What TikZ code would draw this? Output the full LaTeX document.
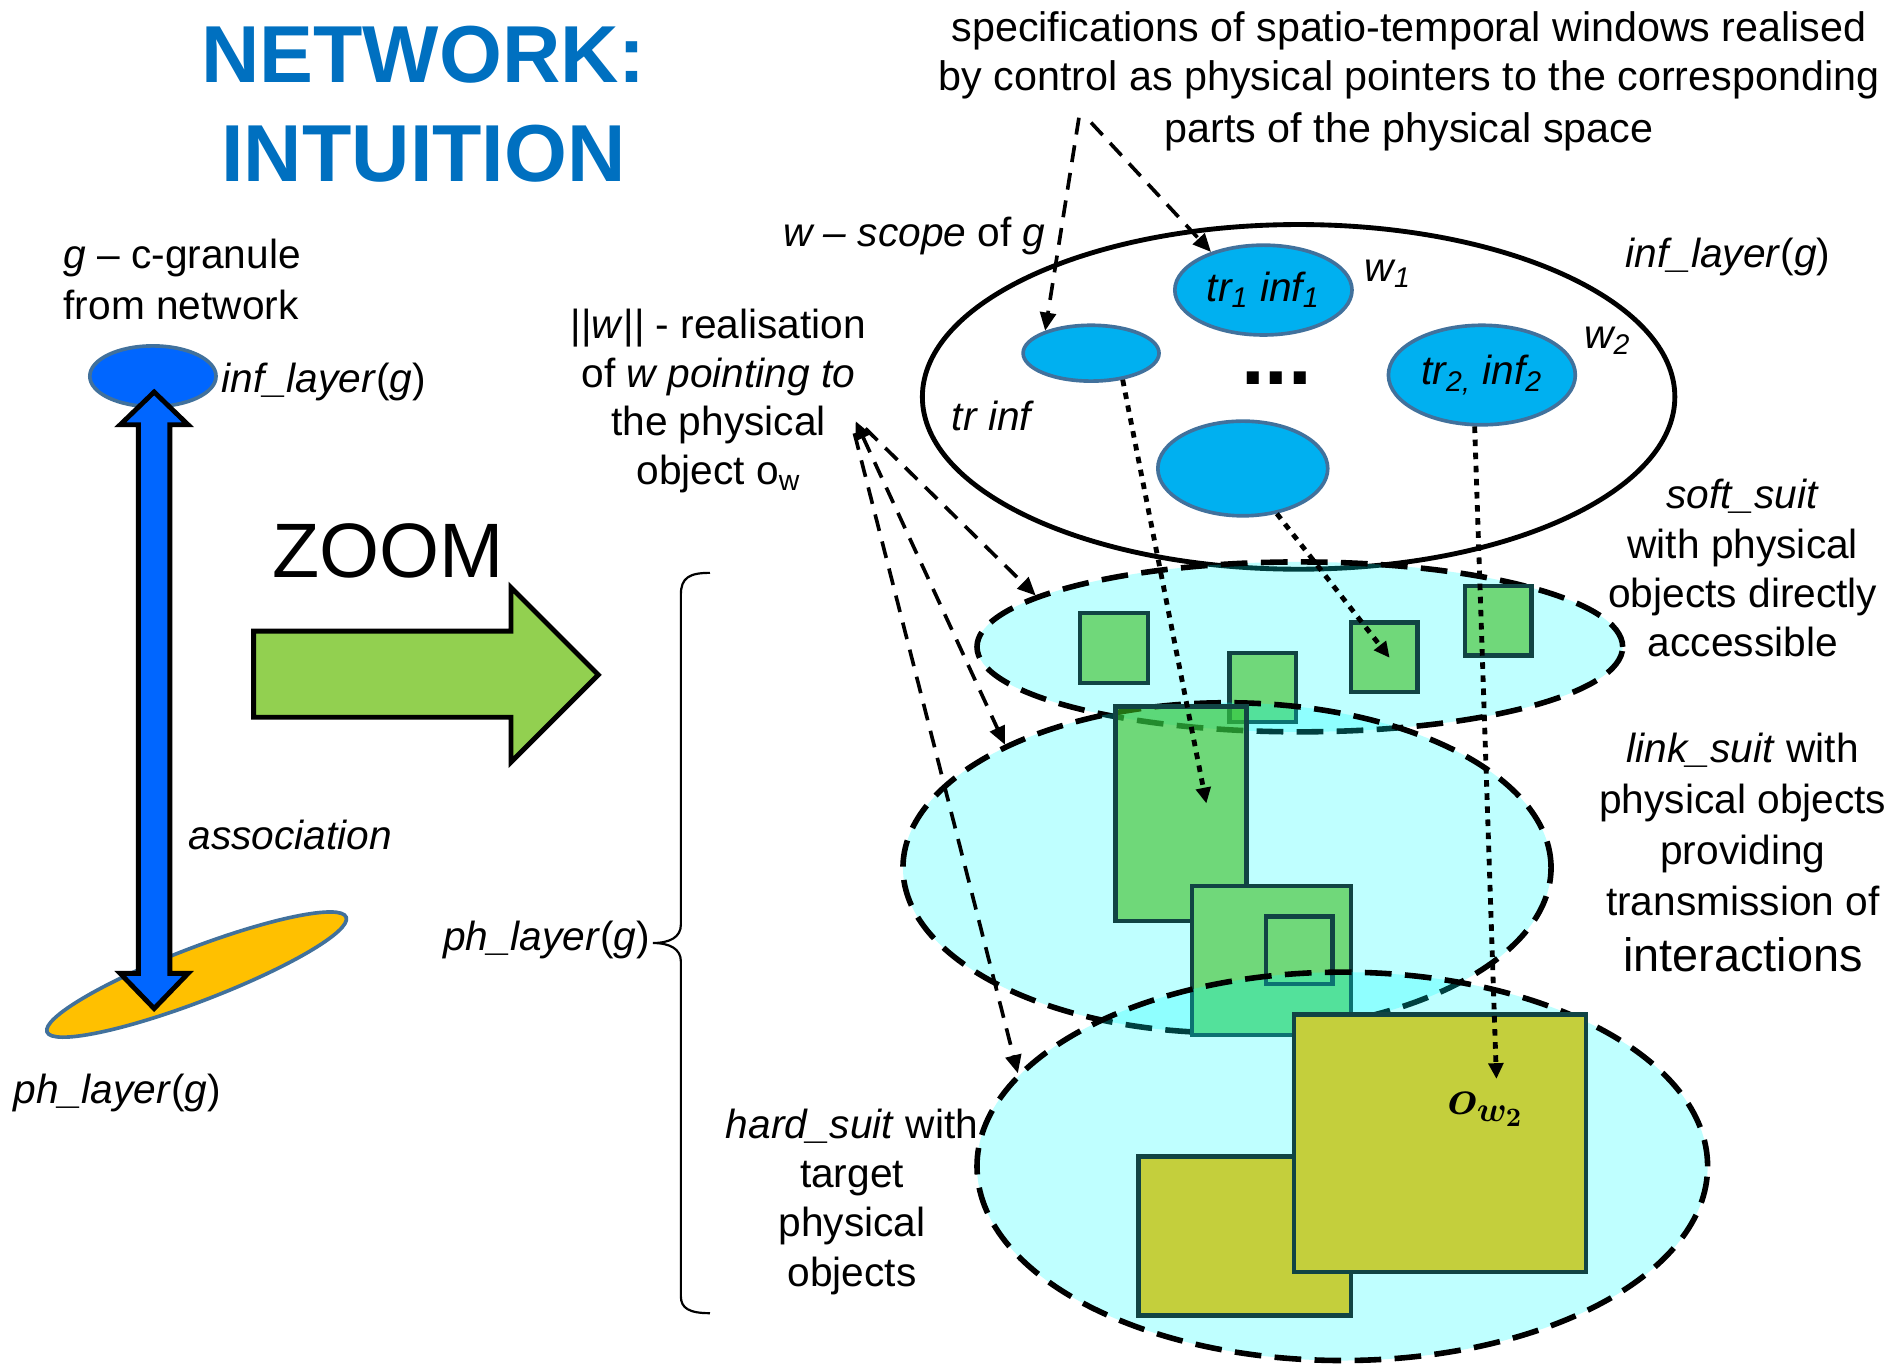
\documentclass[tikz,border=0pt]{standalone}
\usepackage{fontspec}
\setmainfont{Liberation Sans}
\usepackage{amsmath}
\usetikzlibrary{shapes.geometric,arrows.meta}

\definecolor{titleblue}{HTML}{0070C0}
\definecolor{royal}{HTML}{0066FF}
\definecolor{steel}{HTML}{41719C}
\definecolor{skyfill}{HTML}{00B0F0}
\definecolor{amber}{HTML}{FFC000}
\definecolor{leaf}{HTML}{92D050}
\definecolor{boxgreen}{HTML}{70D87A}
\definecolor{linkgreen}{RGB}{59,190,33}
\definecolor{hardolive}{HTML}{C4CF3C}
\definecolor{boxedge}{HTML}{114444}
\definecolor{aqua}{RGB}{0,255,255}

\begin{document}
\begin{tikzpicture}[x=0.5pt,y=-0.5pt,
  txt/.style={inner sep=0pt, font=\fontsize{16.75}{20.5}\selectfont},
  winblob/.style={ellipse, draw=steel, line width=1.5pt, fill=skyfill, inner sep=0pt,
                  font=\fontsize{16.75}{20.5}\selectfont},
  suit/.style={ellipse, draw=black, line width=2.3pt, dash pattern=on 11pt off 5.5pt,
               fill=aqua, fill opacity=0.25, inner sep=0pt},
  softbox/.style={rectangle, draw=boxedge, line width=1.8pt, fill=boxgreen, inner sep=0pt},
  clearbox/.style={rectangle, draw=boxedge, line width=1.8pt, fill=linkgreen, fill opacity=0.6, inner sep=0pt},
  hardbox/.style={rectangle, draw=boxedge, line width=1.8pt, fill=hardolive, inner sep=0pt},
  dasharrow/.style={line width=1.5pt, dash pattern=on 7pt off 4.5pt,
                    -{Triangle[length=7.5pt,width=6.5pt]}},
  dotarrow/.style={line width=2pt, dash pattern=on 2.7pt off 2.7pt,
                   -{Triangle[length=6.5pt,width=6pt]}}
]
\useasboundingbox (0,0) rectangle (1568,1126);
\fill[white] (0,0) rectangle (1568,1126);

% ---------- title ----------
\node[anchor=north, align=center, inner sep=0pt, text=titleblue,
      font=\fontsize{33.3}{41}\selectfont\bfseries] (title) at (349,21) {NETWORK:\\INTUITION};

% ---------- the c-granule on the left ----------
\node[txt, align=left, anchor=north west, font=\fontsize{16.75}{21}\selectfont]
  (granule) at (52,196.5) {\textit{g} – c-granule\\from network};

\node[ellipse, draw=steel, line width=1.5pt, fill=amber, inner sep=0pt,
      minimum width=132pt, minimum height=22pt, rotate=21] (phdisc) at (162,803) {};
\node[ellipse, draw=steel, line width=1.5pt, fill=royal, inner sep=0pt,
      minimum width=52pt, minimum height=25pt] (infdisc) at (126,310) {};

% double block arrow between the two layers
\draw[fill=royal, line width=2pt, line join=miter]
  (127,323) -- (155,350) -- (140,350) -- (140,802) -- (155,802) -- (127,831)
  -- (99,802) -- (114,802) -- (114,350) -- (99,350) -- cycle;

\node[txt, anchor=base west] (inflabel) at (182,323) {\textit{inf\_layer}(\textit{g})};
\node[txt, anchor=base west] (assoc) at (155,700) {\textit{association}};
\node[txt, anchor=base west] (phlabel) at (11,909) {\textit{ph\_layer}(\textit{g})};

% ---------- zoom arrow ----------
\node[anchor=base west, inner sep=0pt, font=\fontsize{31.8}{36}\selectfont] (zoom) at (224,476) {ZOOM};
\draw[fill=leaf, line width=2pt, line join=miter]
  (209,520) -- (421,520) -- (421,484) -- (493,556) -- (421,628) -- (421,591) -- (209,591) -- cycle;

% ---------- brace grouping the physical suits ----------
\draw[line width=0.9pt]
  (585,472) .. controls (568,472) and (561,476) .. (561,490) -- (561,762)
  .. controls (561,772) and (552,777) .. (538,777)
  .. controls (552,777) and (561,782) .. (561,792) -- (561,1068)
  .. controls (561,1078) and (568,1082) .. (585,1082);
\node[txt, anchor=base east] (phmid) at (536,783) {\textit{ph\_layer}(\textit{g})};

\node[txt, align=center, anchor=north, font=\fontsize{16.75}{20}\selectfont]
  (wreal) at (592,254.5) {||\textit{w}|| - realisation\\of \textit{w pointing to}\\the physical\\object o\textsubscript{w}};

\node[txt, align=center, anchor=north, font=\fontsize{17}{20}\selectfont]
  (spec) at (1161,9.5) {specifications of spatio-temporal windows realised\\by control as physical pointers to the corresponding\\[1.5pt]parts of the physical space};

\node[txt, anchor=base west] (scope) at (645,203) {\textit{w – scope} of \textit{g}};

% ---------- information layer ----------
\node[ellipse, draw=black, line width=2pt, fill=white, inner sep=0pt,
      minimum width=310pt, minimum height=142pt] (inf) at (1070,327) {};
\node[txt, anchor=base west] (infright) at (1339,220) {\textit{inf\_layer}(\textit{g})};

\node[winblob, minimum width=73pt, minimum height=37pt] (e1) at (1041,239) {\textit{tr\textsubscript{1} inf\textsubscript{1}}};
\node[winblob, minimum width=56pt, minimum height=23pt] (e0) at (899,291) {};
\node[winblob, minimum width=77pt, minimum height=41pt] (e2) at (1221,309) {\textit{tr\textsubscript{2,} inf\textsubscript{2}}};
\node[winblob, minimum width=70pt, minimum height=39pt] (e3) at (1024,386) {};

\node[txt, anchor=base west] (w1) at (1124,232) {\textit{w\textsubscript{1}}};
\node[txt, anchor=base west] (w2) at (1305,287) {\textit{w\textsubscript{2}}};
\node[txt, anchor=base west] (trinf) at (784,355) {\textit{tr inf}};
\node[inner sep=0pt, font=\fontsize{35}{35}\selectfont\bfseries] (dots) at (1052,312) {...};

% ---------- soft suit ----------
\node[suit, minimum width=266pt, minimum height=70pt] (soft) at (1071,533) {};
\node[softbox, minimum width=28pt, minimum height=29pt] (s1) at (918,534) {};
\node[softbox, minimum width=27.5pt, minimum height=28.5pt] (s2) at (1040.5,566.5) {};
\node[softbox, minimum width=27.5pt, minimum height=28.5pt] (s3) at (1140.5,541.5) {};
\node[softbox, minimum width=27.5pt, minimum height=28.5pt] (s4) at (1234.5,511.5) {};

% ---------- link suit ----------
\node[suit, minimum width=267pt, minimum height=136pt] (link) at (1011,715) {};
\node[clearbox, minimum width=54pt, minimum height=88.5pt] (l1) at (973,670.5) {};
\node[softbox, minimum width=65.5pt, minimum height=61.5pt] (l2) at (1047.5,791.5) {};
\node[softbox, minimum width=27.5pt, minimum height=28pt] (l3) at (1070.5,783) {};

% ---------- hard suit ----------
\node[suit, minimum width=301pt, minimum height=160pt] (hard) at (1106,961) {};
\node[hardbox, minimum width=87.5pt, minimum height=65.5pt] (h1) at (1025.5,1018.5) {};
\node[hardbox, minimum width=120.5pt, minimum height=106pt] (h2) at (1186.5,942) {};
\node[inner sep=0pt, font=\fontsize{22}{26}\selectfont] (ow2) at (1224,914) {$\boldsymbol{o_{w_2}}$};

% ---------- descriptions of the suits ----------
\node[txt, align=center, anchor=north, font=\fontsize{16.75}{20.35}\selectfont]
  (softtxt) at (1436,394.5) {\textit{soft\_suit}\\with physical\\objects directly\\accessible};
\node[txt, align=center, anchor=north, font=\fontsize{16.75}{21}\selectfont]
  (linktxt) at (1436,603.5) {\textit{link\_suit} with\\physical objects\\providing\\transmission of\\[2pt]{\fontsize{19.3}{23}\selectfont interactions}};
\node[txt, align=center, anchor=north, font=\fontsize{16.75}{20.25}\selectfont]
  (hardtxt) at (702,913.5) {\textit{hard\_suit} with\\target\\physical\\objects};

% ---------- pointers ----------
\coordinate (spA) at (889,97);
\coordinate (spB) at (899,101);
\draw[dasharrow] (spA) -- (e0.154);
\draw[dasharrow] (spB) -- (e1.144);

\coordinate (wtip) at (705,347);
\coordinate (wA) at (713,353);
\coordinate (wC) at (704,357);
\draw[dasharrow] (wA) -- (soft.169.6);
\draw[dasharrow, {Triangle[length=7.5pt,width=6.5pt]}-{Triangle[length=7.5pt,width=6.5pt]}] (wtip) -- (link.151.9);
\draw[dasharrow] (wC) -- (hard.164.1);

\coordinate (l1tip) at (994,662);
\coordinate (s3tip) at (1145,542);
\coordinate (owtip) at (1233,889);
\draw[dotarrow] (e0.-40) -- (l1tip);
\draw[dotarrow] (e3.-53) -- (s3tip);
\draw[dotarrow] (e2.-98) -- (owtip);
\end{tikzpicture}
\end{document}
